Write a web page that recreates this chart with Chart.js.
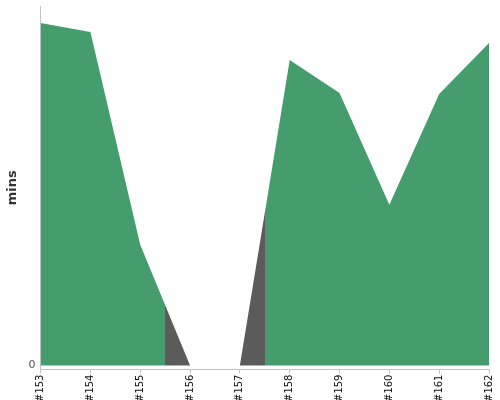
<!DOCTYPE html>
<html>
<head>
<meta charset="utf-8">
<script src="https://cdn.jsdelivr.net/npm/chart.js@4"></script>
<style>
  html, body { margin: 0; padding: 0; background: #fff; }
  #wrap { width: 500px; height: 400px; }
</style>
</head>
<body>
<div id="wrap"><canvas id="build-chart"></canvas></div>
<script>
var builds = ['#153', '#154', '#155', '#156', '#157', '#158', '#159', '#160', '#161', '#162'];
var durations = [34.3, 33.4, 12.1, 0, 0, 30.6, 27.3, 16.1, 27.2, 32.3];
var passed = [true, true, true, false, false, true, true, true, true, true];
var yTicks = [0];

var okColor = '#459d6d';
var failColor = '#5b5b5b';
var axisColor = '#c4c4c4';

// horizontal gradient with hard stops, each build colours the area half way to its neighbours
function statusFill(context) {
    var chart = context.chart;
    var area = chart.chartArea;
    if (!area) return okColor;
    var x = chart.scales.x;
    var width = area.right - area.left;
    var g = chart.ctx.createLinearGradient(area.left, 0, area.right, 0);
    for (var i = 0; i < builds.length; i++) {
        var from = i === 0 ? area.left : (x.getPixelForValue(i - 1) + x.getPixelForValue(i)) / 2;
        var to = i === builds.length - 1 ? area.right : (x.getPixelForValue(i) + x.getPixelForValue(i + 1)) / 2;
        var c = passed[i] ? okColor : failColor;
        g.addColorStop(Math.max(0, Math.min(1, (from - area.left) / width)), c);
        g.addColorStop(Math.max(0, Math.min(1, (to - area.left) / width)), c);
    }
    return g;
}

var ctx = document.getElementById('build-chart').getContext('2d');
var chart = new Chart(ctx, {
    type: 'line',
    data: {
        labels: builds,
        datasets: [{
            label: 'Duration',
            data: durations,
            fill: 'origin',
            backgroundColor: statusFill,
            borderWidth: 0,
            pointRadius: 0,
            tension: 0
        }]
    },
    options: {
        responsive: true,
        maintainAspectRatio: false,
        animation: false,
        layout: { padding: { top: -2, right: 0, left: 5, bottom: -3 } },
        plugins: {
            legend: { display: false },
            tooltip: { enabled: false }
        },
        scales: {
            x: {
                offset: false,
                grid: { drawOnChartArea: false, drawTicks: true, tickLength: 4, color: axisColor },
                border: { color: axisColor },
                ticks: {
                    minRotation: 90,
                    maxRotation: 90,
                    autoSkip: false,
                    padding: 1,
                    color: '#111',
                    font: { family: 'DejaVu Sans', size: 10, lineHeight: 1 }
                }
            },
            y: {
                min: -0.4,
                max: 36,
                afterBuildTicks: function (axis) {
                    axis.ticks = yTicks.map(function (v) { return { value: v }; });
                },
                grid: { display: false, drawTicks: false, tickLength: 0 },
                border: { display: true, color: axisColor },
                ticks: {
                    padding: 5,
                    color: '#555',
                    font: { family: 'DejaVu Sans', size: 11, lineHeight: 0.2 }
                },
                title: {
                    display: true,
                    text: 'mins',
                    color: '#333',
                    padding: { top: 0, bottom: 3 },
                    font: { family: 'DejaVu Sans', size: 13, weight: 'bold' }
                }
            }
        }
    }
});
</script>
</body>
</html>
